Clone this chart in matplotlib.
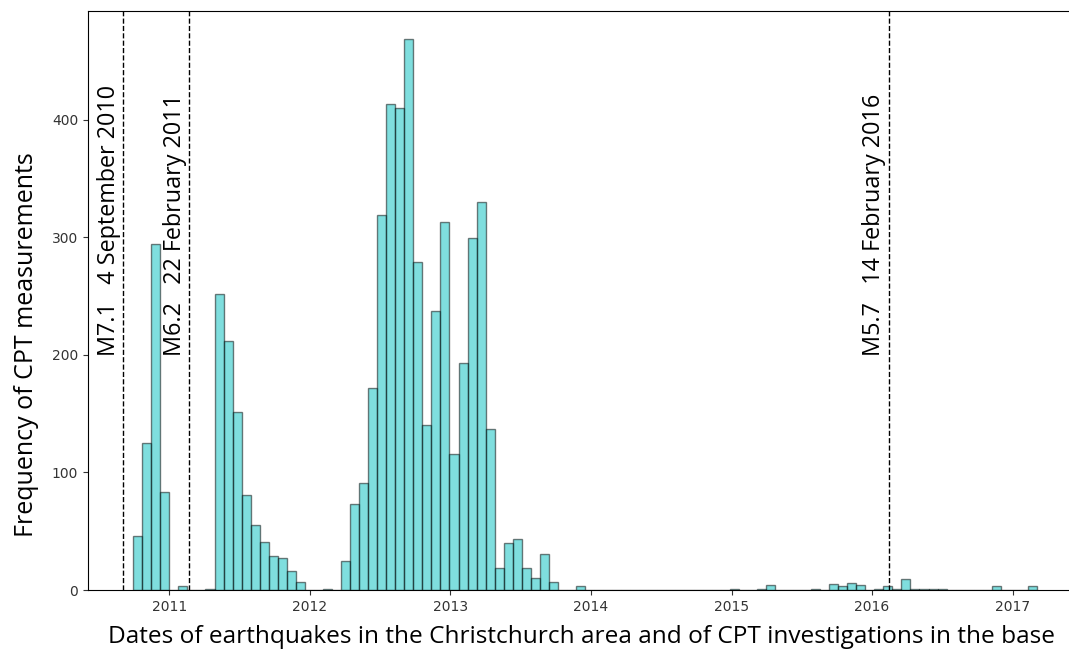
import numpy as np
import pandas as pd
import matplotlib
matplotlib.use("Agg")
import matplotlib.pyplot as plt

# histogram of CPT dates (decimal years), 100 bins
hist_start = 2010.743
hist_end = 2017.173
counts = [
    46, 125, 294, 83, 0, 3, 0, 0, 1, 252,
    212, 151, 81, 55, 41, 29, 27, 16, 7, 0,
    0, 1, 0, 25, 73, 91, 172, 319, 413, 410,
    469, 279, 140, 237, 313, 116, 193, 299, 330, 137,
    19, 40, 43, 19, 10, 31, 7, 0, 0, 3,
    0, 0, 0, 0, 0, 0, 0, 0, 0, 0,
    0, 0, 0, 0, 0, 0, 1, 0, 0, 1,
    4, 0, 0, 0, 0, 1, 0, 5, 3, 6,
    4, 0, 1, 3, 1, 9, 1, 1, 1, 1,
    0, 0, 0, 0, 0, 3, 0, 0, 0, 3,
]

# earthquakes
quake_dates = ["2010-09-04", "2011-02-22", "2016-02-14"]
quake_labels = ["M7.1   4 September 2010",
                "M6.2   22 February 2011",
                "M5.7   14 February 2016"]

year_ticks = [2011, 2012, 2013, 2014, 2015, 2016, 2017]


def decimal_year(s):
    d = pd.Timestamp(s)
    start = pd.Timestamp(year=d.year, month=1, day=1)
    end = pd.Timestamp(year=d.year + 1, month=1, day=1)
    return d.year + (d - start) / (end - start)


edges = np.linspace(hist_start, hist_end, len(counts) + 1)
centers = (edges[:-1] + edges[1:]) / 2

fig = plt.figure(figsize=(10.69, 6.51), dpi=100)
ax = fig.add_axes([0.0823, 0.0937, 0.930, 0.8894])

ax.hist(centers, bins=edges, weights=counts, color="c", alpha=0.5,
        edgecolor="k", linewidth=1)

for date, label in zip(quake_dates, quake_labels):
    x = decimal_year(date)
    ax.axvline(x, color="k", linestyle="--", linewidth=1)
    ax.text(x - 0.02, 199, label, rotation=90, ha="right", va="bottom",
            fontsize=16.8, family="Open Sans")

span = edges[-1] - edges[0]
ax.set_xlim(edges[0] - 0.05 * span, edges[-1] + 0.05 * span)
ax.set_xticks(year_ticks)
ax.set_xticklabels([str(y) for y in year_ticks])
ax.tick_params(labelsize=10, colors="#333333", labelcolor="#333333")
ax.set_yticks([0, 100, 200, 300, 400])

ax.set_ylabel("Frequency of CPT measurements", fontsize=18, family="Open Sans")
ax.yaxis.set_label_coords(-0.049, 0.423)

# x label as visible in the (cropped) source figure
fig.text(108 / 1069, 1 - 637 / 651,
         "Dates of earthquakes in the Christchurch area and of CPT investigations in the base",
         ha="left", va="center", fontsize=17.6, family="Open Sans")

fig.savefig("out.png", dpi=100)
